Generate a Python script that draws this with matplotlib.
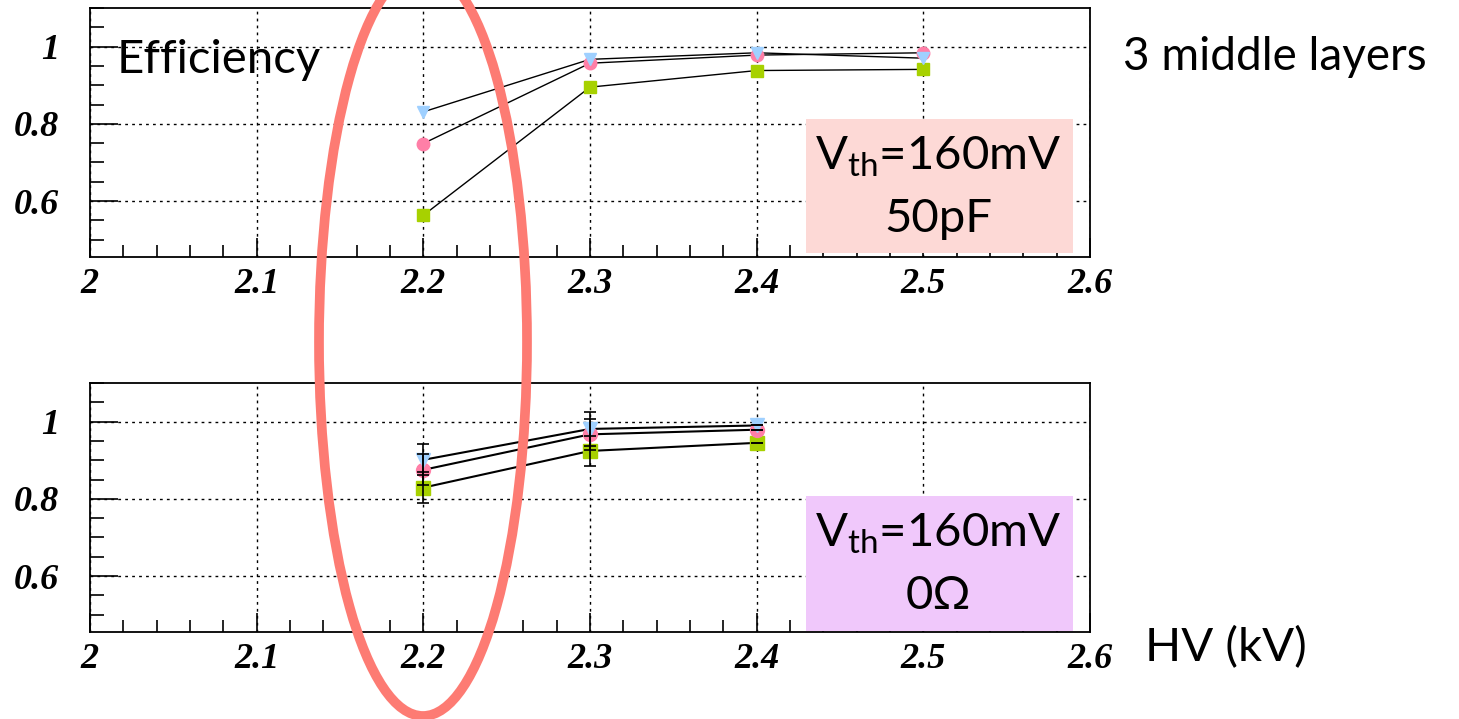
import matplotlib
matplotlib.use("Agg")
import matplotlib.pyplot as plt
from matplotlib.patches import Ellipse, Rectangle
from matplotlib.ticker import MultipleLocator, FixedLocator

plt.rcParams['font.family'] = ['Lato', 'DejaVu Sans']
plt.rcParams['mathtext.fontset'] = 'custom'
plt.rcParams['mathtext.rm'] = 'Lato'
plt.rcParams['mathtext.it'] = 'Lato'

# ---- data ----
hv_top = [2.2, 2.3, 2.4, 2.5]
top_tri = [0.831, 0.967, 0.984, 0.970]
top_circ = [0.749, 0.957, 0.978, 0.984]
top_sq = [0.563, 0.895, 0.938, 0.941]

hv_bot = [2.2, 2.3, 2.4]
bot_tri = [0.901, 0.981, 0.990]
bot_circ = [0.875, 0.967, 0.979]
bot_sq = [0.829, 0.924, 0.945]
bot_tri_err = [0.040, 0.044, 0.0]
bot_circ_err = [0.040, 0.040, 0.0]
bot_sq_err = [0.040, 0.040, 0.0]

x_ticks = [2.0, 2.1, 2.2, 2.3, 2.4, 2.5, 2.6]
x_labels = ['2', '2.1', '2.2', '2.3', '2.4', '2.5', '2.6']
y_ticks = [0.6, 0.8, 1.0]
y_labels = ['0.6', '0.8', '1']

c_tri = '#9fd0ff'
c_circ = '#ff7fa7'
c_sq = '#a7d100'

W, H = 1459, 719
fig = plt.figure(figsize=(W / 100, H / 100), dpi=100)


def px_axes(l, t, r, b):
    return fig.add_axes([l / W, 1 - b / H, (r - l) / W, (b - t) / H])


ax_top = px_axes(90, 8, 1090, 257)
ax_bot = px_axes(90, 383, 1090, 632)

tick_font = dict(family='Liberation Serif', weight='bold', style='italic', size=26)

for ax in (ax_top, ax_bot):
    ax.set_xlim(2.0, 2.6)
    ax.set_ylim(0.455, 1.1)
    ax.xaxis.set_major_locator(FixedLocator(x_ticks))
    ax.xaxis.set_minor_locator(MultipleLocator(0.02))
    ax.yaxis.set_major_locator(FixedLocator(y_ticks))
    ax.yaxis.set_minor_locator(MultipleLocator(0.05))
    ax.set_xticklabels(x_labels, fontdict=tick_font)
    ax.set_yticklabels(y_labels, fontdict=tick_font)
    ax.tick_params(which='both', direction='in', top=False, right=False)
    ax.tick_params(which='major', axis='x', length=14, width=1.2, pad=8)
    ax.tick_params(which='minor', axis='x', length=9, width=1.2)
    ax.tick_params(which='major', axis='y', length=20, width=1.2, pad=22)
    ax.tick_params(which='minor', axis='y', length=10, width=1.2)
    ax.grid(True, which='major', linestyle=(0, (2, 3)), color='black', linewidth=1.0)
    for s in ax.spines.values():
        s.set_linewidth(1.3)

# top panel
for y, c, m in ((top_sq, c_sq, 's'), (top_circ, c_circ, 'o'), (top_tri, c_tri, 'v')):
    ax_top.plot(hv_top, y, color='black', linewidth=1.0, zorder=3)
    ax_top.plot(hv_top, y, linestyle='none', marker=m, markersize=9,
                markerfacecolor=c, markeredgecolor=c, zorder=4)

# bottom panel
for y, e, c, m in ((bot_sq, bot_sq_err, c_sq, 's'), (bot_circ, bot_circ_err, c_circ, 'o'),
                   (bot_tri, bot_tri_err, c_tri, 'v')):
    ax_bot.plot(hv_bot, y, color='black', linewidth=1.5, zorder=3)
    ax_bot.plot(hv_bot, y, linestyle='none', marker=m, markersize=10,
                markerfacecolor=c, markeredgecolor=c, zorder=4)
    ax_bot.errorbar(hv_bot, y, yerr=e, fmt='none', ecolor='black', elinewidth=1.2,
                    capsize=4, capthick=1.2, zorder=5)

# boxes with labels
def box(t, b, color, line2):
    fig.patches.append(Rectangle((806 / W, 1 - b / H), (1073 - 806) / W, (b - t) / H,
                                 transform=fig.transFigure, facecolor=color,
                                 edgecolor='none', zorder=5))
    cx = 938 / W
    fig.text(cx, 1 - (t + 38) / H, r'V$_{\mathrm{th}}$=160mV', ha='center', va='center',
             fontsize=34, zorder=6)
    fig.text(cx, 1 - (t + 100) / H, line2, ha='center', va='center', fontsize=34, zorder=6)


box(119, 253, '#fdd9d6', '50pF')
box(496, 631, '#f0c8fb', '0Ω')

fig.text(117 / W, 1 - 60 / H, 'Efficiency', ha='left', va='center', fontsize=34)
fig.text(1123 / W, 1 - 57 / H, '3 middle layers', ha='left', va='center', fontsize=33)
fig.text(1145 / W, 1 - 648 / H, 'HV (kV)', ha='left', va='center', fontsize=34)

# red hand-drawn ellipse annotation
fig.patches.append(Ellipse((423 / W, 1 - 342 / H), 208 / W, 748 / H,
                           transform=fig.transFigure, facecolor='none',
                           edgecolor='#fd7b73', linewidth=7, zorder=10))

fig.savefig('out.png', dpi=100)
